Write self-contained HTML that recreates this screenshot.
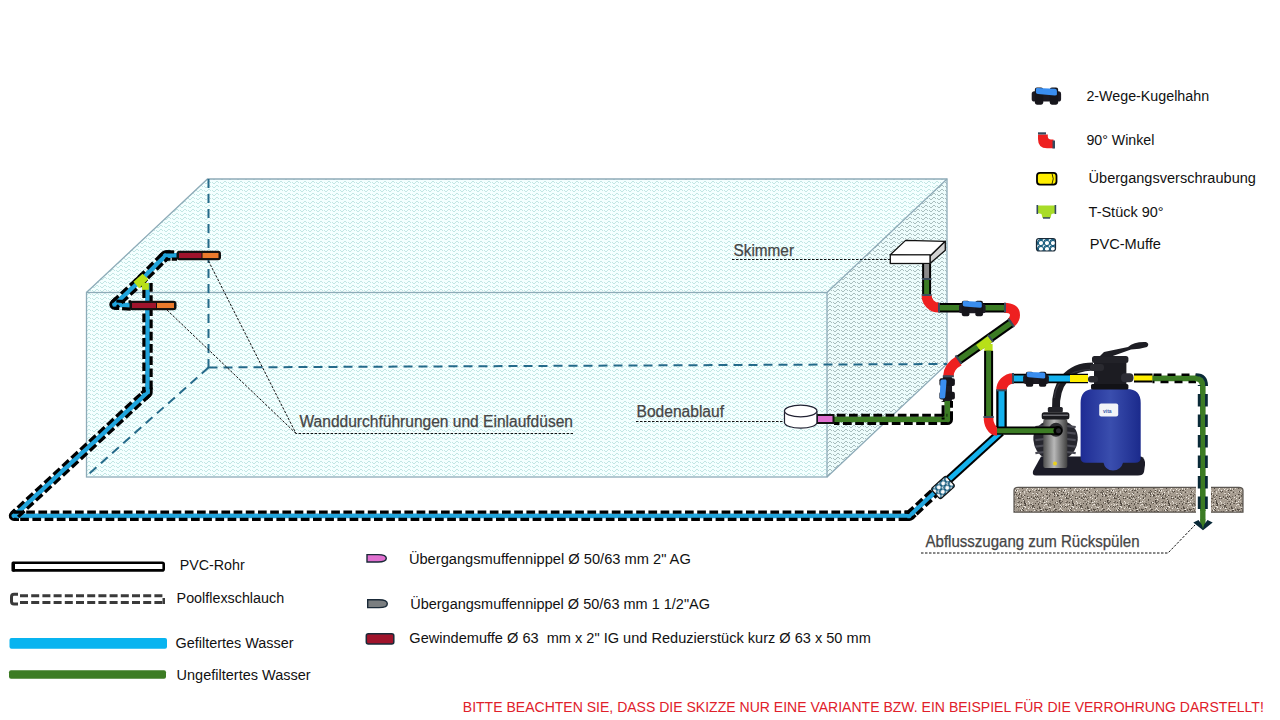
<!DOCTYPE html>
<html><head><meta charset="utf-8">
<style>
html,body{margin:0;padding:0;background:#fff;width:1280px;height:720px;overflow:hidden}
svg{display:block}
text{font-family:"Liberation Sans",sans-serif;white-space:pre}
</style></head>
<body>
<svg width="1280" height="720" viewBox="0 0 1280 720">
<defs>
<pattern id="wf" x="4" width="8" height="4" patternUnits="userSpaceOnUse">
<rect width="8" height="4" fill="#f4ffff"/><path d="M0 2h1v1h-1zM1 3h2v1h-2zM3 2h1v1h-1zM4 1h2v1h-2zM6 2h1v1h-1z" fill="#c2e6e4"/></pattern>
<pattern id="wr" x="1" width="8" height="4" patternUnits="userSpaceOnUse">
<rect width="8" height="4" fill="#edfcfc"/><path d="M0 2h1v1h-1zM1 3h2v1h-2zM3 2h1v1h-1zM4 1h2v1h-2zM6 2h1v1h-1z" fill="#a8bebe"/></pattern>
<pattern id="muf" width="6" height="6" patternUnits="userSpaceOnUse">
<rect width="6" height="6" fill="#fff"/><circle cx="3" cy="3" r="2.6" fill="none" stroke="#1c5f80" stroke-width="1.1"/><rect x="0" y="0" width="1.2" height="1.2" fill="#1c5f80"/></pattern>
<pattern id="granite" width="48" height="26" patternUnits="userSpaceOnUse"><rect width="48" height="26" fill="#a69c90"/><rect x="20" y="4" width="1" height="1" fill="#918779"/><rect x="41" y="1" width="1" height="1" fill="#6a6258"/><rect x="34" y="3" width="1" height="1" fill="#f0ebe4"/><rect x="37" y="1" width="1" height="1" fill="#c8c0b4"/><rect x="2" y="2" width="1" height="1" fill="#918779"/><rect x="26" y="2" width="1" height="1" fill="#c8c0b4"/><rect x="5" y="17" width="1" height="1" fill="#918779"/><rect x="3" y="18" width="1" height="1" fill="#6a6258"/><rect x="14" y="20" width="1" height="1" fill="#4e463e"/><rect x="36" y="18" width="1" height="1" fill="#918779"/><rect x="3" y="7" width="1" height="1" fill="#4e463e"/><rect x="35" y="4" width="1" height="1" fill="#ddd6cc"/><rect x="26" y="4" width="1" height="1" fill="#6a6258"/><rect x="36" y="9" width="1" height="1" fill="#857b70"/><rect x="6" y="18" width="1" height="1" fill="#c8c0b4"/><rect x="23" y="3" width="1" height="1" fill="#6a6258"/><rect x="36" y="1" width="1" height="1" fill="#c8c0b4"/><rect x="31" y="21" width="1" height="1" fill="#918779"/><rect x="20" y="14" width="1" height="1" fill="#5e564c"/><rect x="23" y="9" width="1" height="1" fill="#c8c0b4"/><rect x="11" y="22" width="1" height="1" fill="#c8c0b4"/><rect x="5" y="18" width="1" height="1" fill="#ddd6cc"/><rect x="33" y="15" width="1" height="1" fill="#f0ebe4"/><rect x="46" y="14" width="1" height="1" fill="#ddd6cc"/><rect x="38" y="2" width="1" height="1" fill="#6a6258"/><rect x="32" y="13" width="1" height="1" fill="#857b70"/><rect x="21" y="4" width="1" height="1" fill="#5e564c"/><rect x="26" y="1" width="1" height="1" fill="#6a6258"/><rect x="35" y="18" width="1" height="1" fill="#f0ebe4"/><rect x="21" y="22" width="1" height="1" fill="#f0ebe4"/><rect x="38" y="15" width="1" height="1" fill="#5e564c"/><rect x="4" y="2" width="1" height="1" fill="#ddd6cc"/><rect x="30" y="22" width="1" height="1" fill="#6a6258"/><rect x="3" y="23" width="1" height="1" fill="#ddd6cc"/><rect x="41" y="18" width="1" height="1" fill="#5e564c"/><rect x="18" y="22" width="1" height="1" fill="#918779"/><rect x="42" y="11" width="1" height="1" fill="#4e463e"/><rect x="29" y="11" width="1" height="1" fill="#857b70"/><rect x="39" y="3" width="1" height="1" fill="#5e564c"/><rect x="3" y="6" width="1" height="1" fill="#ddd6cc"/><rect x="8" y="23" width="1" height="1" fill="#c8c0b4"/><rect x="25" y="12" width="1" height="1" fill="#5e564c"/><rect x="5" y="5" width="1" height="1" fill="#5e564c"/><rect x="25" y="17" width="1" height="1" fill="#ddd6cc"/><rect x="8" y="13" width="1" height="1" fill="#ddd6cc"/><rect x="45" y="13" width="1" height="1" fill="#f0ebe4"/><rect x="43" y="12" width="1" height="1" fill="#c8c0b4"/><rect x="9" y="2" width="1" height="1" fill="#857b70"/><rect x="9" y="7" width="1" height="1" fill="#c8c0b4"/><rect x="0" y="15" width="1" height="1" fill="#857b70"/><rect x="16" y="9" width="1" height="1" fill="#4e463e"/><rect x="9" y="13" width="1" height="1" fill="#f0ebe4"/><rect x="39" y="18" width="1" height="1" fill="#f0ebe4"/><rect x="8" y="22" width="1" height="1" fill="#4e463e"/><rect x="29" y="24" width="1" height="1" fill="#918779"/><rect x="25" y="12" width="1" height="1" fill="#918779"/><rect x="6" y="15" width="1" height="1" fill="#918779"/><rect x="3" y="6" width="1" height="1" fill="#6a6258"/><rect x="13" y="14" width="1" height="1" fill="#857b70"/><rect x="7" y="10" width="1" height="1" fill="#4e463e"/><rect x="6" y="0" width="1" height="1" fill="#857b70"/><rect x="34" y="3" width="1" height="1" fill="#f0ebe4"/><rect x="39" y="0" width="1" height="1" fill="#6a6258"/><rect x="13" y="19" width="1" height="1" fill="#918779"/><rect x="9" y="20" width="1" height="1" fill="#ddd6cc"/><rect x="22" y="19" width="1" height="1" fill="#f0ebe4"/><rect x="30" y="3" width="1" height="1" fill="#6a6258"/><rect x="31" y="14" width="1" height="1" fill="#5e564c"/><rect x="30" y="9" width="1" height="1" fill="#6a6258"/><rect x="9" y="3" width="1" height="1" fill="#f0ebe4"/><rect x="47" y="8" width="1" height="1" fill="#5e564c"/><rect x="44" y="5" width="1" height="1" fill="#4e463e"/><rect x="13" y="16" width="1" height="1" fill="#f0ebe4"/><rect x="9" y="22" width="1" height="1" fill="#4e463e"/><rect x="33" y="9" width="1" height="1" fill="#6a6258"/><rect x="44" y="8" width="1" height="1" fill="#f0ebe4"/><rect x="10" y="11" width="1" height="1" fill="#c8c0b4"/><rect x="34" y="17" width="1" height="1" fill="#f0ebe4"/><rect x="40" y="7" width="1" height="1" fill="#c8c0b4"/><rect x="15" y="12" width="1" height="1" fill="#c8c0b4"/><rect x="12" y="16" width="1" height="1" fill="#5e564c"/><rect x="22" y="23" width="1" height="1" fill="#4e463e"/><rect x="1" y="25" width="1" height="1" fill="#ddd6cc"/><rect x="30" y="8" width="1" height="1" fill="#c8c0b4"/><rect x="44" y="19" width="1" height="1" fill="#f0ebe4"/><rect x="28" y="25" width="1" height="1" fill="#f0ebe4"/><rect x="23" y="2" width="1" height="1" fill="#c8c0b4"/><rect x="6" y="7" width="1" height="1" fill="#5e564c"/><rect x="12" y="10" width="1" height="1" fill="#c8c0b4"/><rect x="30" y="19" width="1" height="1" fill="#4e463e"/><rect x="30" y="20" width="1" height="1" fill="#f0ebe4"/><rect x="41" y="2" width="1" height="1" fill="#6a6258"/><rect x="24" y="25" width="1" height="1" fill="#c8c0b4"/><rect x="30" y="5" width="1" height="1" fill="#918779"/><rect x="40" y="10" width="1" height="1" fill="#6a6258"/><rect x="46" y="12" width="1" height="1" fill="#5e564c"/><rect x="25" y="23" width="1" height="1" fill="#6a6258"/><rect x="46" y="5" width="1" height="1" fill="#857b70"/><rect x="8" y="0" width="1" height="1" fill="#857b70"/><rect x="37" y="14" width="1" height="1" fill="#857b70"/><rect x="39" y="19" width="1" height="1" fill="#5e564c"/><rect x="42" y="11" width="1" height="1" fill="#857b70"/><rect x="35" y="17" width="1" height="1" fill="#857b70"/><rect x="1" y="0" width="1" height="1" fill="#6a6258"/><rect x="33" y="23" width="1" height="1" fill="#857b70"/><rect x="27" y="6" width="1" height="1" fill="#c8c0b4"/><rect x="1" y="8" width="1" height="1" fill="#c8c0b4"/><rect x="18" y="16" width="1" height="1" fill="#c8c0b4"/><rect x="37" y="10" width="1" height="1" fill="#ddd6cc"/><rect x="34" y="13" width="1" height="1" fill="#857b70"/><rect x="3" y="23" width="1" height="1" fill="#f0ebe4"/><rect x="29" y="21" width="1" height="1" fill="#918779"/><rect x="32" y="4" width="1" height="1" fill="#857b70"/><rect x="33" y="16" width="1" height="1" fill="#4e463e"/><rect x="28" y="24" width="1" height="1" fill="#857b70"/><rect x="38" y="0" width="1" height="1" fill="#857b70"/><rect x="11" y="4" width="1" height="1" fill="#5e564c"/><rect x="39" y="23" width="1" height="1" fill="#6a6258"/><rect x="35" y="1" width="1" height="1" fill="#f0ebe4"/><rect x="43" y="16" width="1" height="1" fill="#5e564c"/><rect x="6" y="17" width="1" height="1" fill="#4e463e"/><rect x="15" y="6" width="1" height="1" fill="#ddd6cc"/><rect x="2" y="24" width="1" height="1" fill="#6a6258"/><rect x="32" y="14" width="1" height="1" fill="#4e463e"/><rect x="4" y="14" width="1" height="1" fill="#f0ebe4"/><rect x="39" y="16" width="1" height="1" fill="#c8c0b4"/><rect x="44" y="8" width="1" height="1" fill="#5e564c"/><rect x="32" y="17" width="1" height="1" fill="#5e564c"/><rect x="32" y="7" width="1" height="1" fill="#ddd6cc"/><rect x="35" y="6" width="1" height="1" fill="#5e564c"/><rect x="8" y="13" width="1" height="1" fill="#6a6258"/><rect x="25" y="14" width="1" height="1" fill="#f0ebe4"/><rect x="4" y="21" width="1" height="1" fill="#c8c0b4"/><rect x="27" y="2" width="1" height="1" fill="#c8c0b4"/><rect x="42" y="9" width="1" height="1" fill="#6a6258"/><rect x="9" y="22" width="1" height="1" fill="#f0ebe4"/><rect x="9" y="8" width="1" height="1" fill="#857b70"/><rect x="29" y="7" width="1" height="1" fill="#6a6258"/><rect x="25" y="15" width="1" height="1" fill="#857b70"/><rect x="42" y="7" width="1" height="1" fill="#857b70"/><rect x="45" y="13" width="1" height="1" fill="#918779"/><rect x="21" y="13" width="1" height="1" fill="#c8c0b4"/><rect x="22" y="10" width="1" height="1" fill="#6a6258"/><rect x="46" y="11" width="1" height="1" fill="#4e463e"/><rect x="21" y="17" width="1" height="1" fill="#5e564c"/><rect x="28" y="22" width="1" height="1" fill="#4e463e"/><rect x="24" y="10" width="1" height="1" fill="#ddd6cc"/><rect x="32" y="2" width="1" height="1" fill="#6a6258"/><rect x="14" y="3" width="1" height="1" fill="#6a6258"/><rect x="16" y="8" width="1" height="1" fill="#4e463e"/><rect x="11" y="8" width="1" height="1" fill="#857b70"/><rect x="27" y="21" width="1" height="1" fill="#ddd6cc"/><rect x="25" y="4" width="1" height="1" fill="#5e564c"/><rect x="44" y="10" width="1" height="1" fill="#6a6258"/><rect x="17" y="1" width="1" height="1" fill="#857b70"/><rect x="27" y="2" width="1" height="1" fill="#ddd6cc"/><rect x="1" y="20" width="1" height="1" fill="#6a6258"/><rect x="16" y="2" width="1" height="1" fill="#c8c0b4"/><rect x="4" y="8" width="1" height="1" fill="#6a6258"/><rect x="29" y="0" width="1" height="1" fill="#f0ebe4"/><rect x="35" y="13" width="1" height="1" fill="#ddd6cc"/><rect x="39" y="4" width="1" height="1" fill="#4e463e"/><rect x="33" y="22" width="1" height="1" fill="#c8c0b4"/><rect x="7" y="5" width="1" height="1" fill="#ddd6cc"/><rect x="3" y="5" width="1" height="1" fill="#c8c0b4"/><rect x="19" y="20" width="1" height="1" fill="#ddd6cc"/><rect x="33" y="24" width="1" height="1" fill="#c8c0b4"/><rect x="18" y="14" width="1" height="1" fill="#857b70"/><rect x="17" y="11" width="1" height="1" fill="#4e463e"/><rect x="16" y="1" width="1" height="1" fill="#4e463e"/><rect x="1" y="23" width="1" height="1" fill="#c8c0b4"/><rect x="32" y="15" width="1" height="1" fill="#c8c0b4"/><rect x="28" y="3" width="1" height="1" fill="#918779"/><rect x="42" y="15" width="1" height="1" fill="#918779"/><rect x="32" y="9" width="1" height="1" fill="#c8c0b4"/><rect x="14" y="10" width="1" height="1" fill="#c8c0b4"/><rect x="45" y="23" width="1" height="1" fill="#857b70"/><rect x="25" y="11" width="1" height="1" fill="#4e463e"/><rect x="8" y="0" width="1" height="1" fill="#6a6258"/><rect x="40" y="23" width="1" height="1" fill="#ddd6cc"/><rect x="27" y="5" width="1" height="1" fill="#4e463e"/><rect x="5" y="21" width="1" height="1" fill="#918779"/><rect x="32" y="21" width="1" height="1" fill="#ddd6cc"/><rect x="38" y="7" width="1" height="1" fill="#ddd6cc"/><rect x="2" y="14" width="1" height="1" fill="#857b70"/><rect x="10" y="8" width="1" height="1" fill="#5e564c"/><rect x="0" y="8" width="1" height="1" fill="#f0ebe4"/><rect x="21" y="17" width="1" height="1" fill="#f0ebe4"/><rect x="15" y="1" width="1" height="1" fill="#ddd6cc"/><rect x="13" y="11" width="1" height="1" fill="#857b70"/><rect x="0" y="10" width="1" height="1" fill="#918779"/><rect x="5" y="15" width="1" height="1" fill="#ddd6cc"/><rect x="32" y="20" width="1" height="1" fill="#c8c0b4"/><rect x="15" y="16" width="1" height="1" fill="#4e463e"/><rect x="5" y="8" width="1" height="1" fill="#6a6258"/><rect x="9" y="12" width="1" height="1" fill="#4e463e"/><rect x="25" y="0" width="1" height="1" fill="#ddd6cc"/><rect x="19" y="20" width="1" height="1" fill="#c8c0b4"/><rect x="5" y="18" width="1" height="1" fill="#857b70"/><rect x="42" y="22" width="1" height="1" fill="#918779"/><rect x="20" y="23" width="1" height="1" fill="#5e564c"/><rect x="9" y="9" width="1" height="1" fill="#857b70"/><rect x="2" y="22" width="1" height="1" fill="#918779"/><rect x="46" y="22" width="1" height="1" fill="#857b70"/><rect x="33" y="24" width="1" height="1" fill="#4e463e"/><rect x="43" y="18" width="1" height="1" fill="#c8c0b4"/><rect x="5" y="0" width="1" height="1" fill="#4e463e"/><rect x="8" y="20" width="1" height="1" fill="#f0ebe4"/><rect x="6" y="12" width="1" height="1" fill="#5e564c"/><rect x="35" y="1" width="1" height="1" fill="#4e463e"/><rect x="40" y="17" width="1" height="1" fill="#c8c0b4"/><rect x="31" y="8" width="1" height="1" fill="#4e463e"/><rect x="29" y="25" width="1" height="1" fill="#6a6258"/><rect x="47" y="16" width="1" height="1" fill="#6a6258"/><rect x="42" y="16" width="1" height="1" fill="#6a6258"/><rect x="47" y="23" width="1" height="1" fill="#5e564c"/><rect x="16" y="25" width="1" height="1" fill="#6a6258"/><rect x="16" y="7" width="1" height="1" fill="#c8c0b4"/><rect x="14" y="23" width="1" height="1" fill="#5e564c"/><rect x="31" y="12" width="1" height="1" fill="#6a6258"/><rect x="30" y="21" width="1" height="1" fill="#ddd6cc"/><rect x="2" y="19" width="1" height="1" fill="#c8c0b4"/><rect x="4" y="19" width="1" height="1" fill="#857b70"/><rect x="21" y="8" width="1" height="1" fill="#ddd6cc"/><rect x="39" y="18" width="1" height="1" fill="#857b70"/><rect x="0" y="15" width="1" height="1" fill="#4e463e"/><rect x="31" y="8" width="1" height="1" fill="#6a6258"/><rect x="44" y="6" width="1" height="1" fill="#5e564c"/><rect x="18" y="22" width="1" height="1" fill="#ddd6cc"/><rect x="29" y="14" width="1" height="1" fill="#5e564c"/><rect x="7" y="17" width="1" height="1" fill="#c8c0b4"/><rect x="19" y="2" width="1" height="1" fill="#5e564c"/><rect x="1" y="9" width="1" height="1" fill="#5e564c"/><rect x="4" y="16" width="1" height="1" fill="#5e564c"/><rect x="17" y="12" width="1" height="1" fill="#c8c0b4"/><rect x="13" y="2" width="1" height="1" fill="#6a6258"/><rect x="9" y="23" width="1" height="1" fill="#ddd6cc"/><rect x="23" y="4" width="1" height="1" fill="#ddd6cc"/><rect x="7" y="22" width="1" height="1" fill="#f0ebe4"/><rect x="14" y="15" width="1" height="1" fill="#5e564c"/><rect x="25" y="0" width="1" height="1" fill="#857b70"/><rect x="0" y="15" width="1" height="1" fill="#5e564c"/><rect x="25" y="9" width="1" height="1" fill="#857b70"/><rect x="26" y="11" width="1" height="1" fill="#918779"/><rect x="20" y="3" width="1" height="1" fill="#f0ebe4"/><rect x="0" y="10" width="1" height="1" fill="#f0ebe4"/><rect x="25" y="3" width="1" height="1" fill="#c8c0b4"/><rect x="45" y="0" width="1" height="1" fill="#ddd6cc"/><rect x="16" y="11" width="1" height="1" fill="#6a6258"/><rect x="25" y="12" width="1" height="1" fill="#6a6258"/><rect x="23" y="13" width="1" height="1" fill="#ddd6cc"/><rect x="3" y="8" width="1" height="1" fill="#6a6258"/><rect x="3" y="21" width="1" height="1" fill="#ddd6cc"/><rect x="40" y="4" width="1" height="1" fill="#c8c0b4"/><rect x="17" y="13" width="1" height="1" fill="#f0ebe4"/><rect x="12" y="24" width="1" height="1" fill="#f0ebe4"/><rect x="27" y="0" width="1" height="1" fill="#918779"/><rect x="35" y="17" width="1" height="1" fill="#c8c0b4"/><rect x="46" y="2" width="1" height="1" fill="#4e463e"/><rect x="46" y="13" width="1" height="1" fill="#5e564c"/><rect x="39" y="24" width="1" height="1" fill="#857b70"/><rect x="41" y="9" width="1" height="1" fill="#5e564c"/><rect x="3" y="17" width="1" height="1" fill="#857b70"/><rect x="10" y="15" width="1" height="1" fill="#918779"/><rect x="21" y="9" width="1" height="1" fill="#ddd6cc"/><rect x="16" y="23" width="1" height="1" fill="#ddd6cc"/><rect x="25" y="20" width="1" height="1" fill="#c8c0b4"/><rect x="19" y="15" width="1" height="1" fill="#918779"/><rect x="7" y="5" width="1" height="1" fill="#857b70"/><rect x="4" y="6" width="1" height="1" fill="#5e564c"/><rect x="35" y="7" width="1" height="1" fill="#5e564c"/><rect x="21" y="24" width="1" height="1" fill="#5e564c"/><rect x="27" y="4" width="1" height="1" fill="#c8c0b4"/><rect x="15" y="2" width="1" height="1" fill="#857b70"/><rect x="21" y="17" width="1" height="1" fill="#6a6258"/><rect x="20" y="7" width="1" height="1" fill="#f0ebe4"/><rect x="16" y="25" width="1" height="1" fill="#c8c0b4"/><rect x="1" y="23" width="1" height="1" fill="#918779"/><rect x="24" y="13" width="1" height="1" fill="#c8c0b4"/><rect x="24" y="8" width="1" height="1" fill="#f0ebe4"/><rect x="3" y="15" width="1" height="1" fill="#ddd6cc"/><rect x="36" y="11" width="1" height="1" fill="#857b70"/><rect x="43" y="16" width="1" height="1" fill="#c8c0b4"/><rect x="5" y="8" width="1" height="1" fill="#c8c0b4"/><rect x="24" y="12" width="1" height="1" fill="#5e564c"/><rect x="27" y="9" width="1" height="1" fill="#4e463e"/><rect x="8" y="1" width="1" height="1" fill="#918779"/><rect x="45" y="24" width="1" height="1" fill="#5e564c"/><rect x="37" y="15" width="1" height="1" fill="#4e463e"/><rect x="4" y="12" width="1" height="1" fill="#5e564c"/><rect x="28" y="7" width="1" height="1" fill="#6a6258"/><rect x="14" y="4" width="1" height="1" fill="#857b70"/><rect x="33" y="21" width="1" height="1" fill="#6a6258"/><rect x="46" y="22" width="1" height="1" fill="#5e564c"/><rect x="5" y="17" width="1" height="1" fill="#4e463e"/><rect x="0" y="25" width="1" height="1" fill="#857b70"/><rect x="14" y="18" width="1" height="1" fill="#4e463e"/><rect x="41" y="22" width="1" height="1" fill="#ddd6cc"/><rect x="8" y="20" width="1" height="1" fill="#ddd6cc"/><rect x="33" y="20" width="1" height="1" fill="#918779"/><rect x="44" y="24" width="1" height="1" fill="#6a6258"/><rect x="6" y="2" width="1" height="1" fill="#ddd6cc"/><rect x="33" y="18" width="1" height="1" fill="#c8c0b4"/><rect x="24" y="8" width="1" height="1" fill="#c8c0b4"/><rect x="38" y="0" width="1" height="1" fill="#4e463e"/><rect x="34" y="9" width="1" height="1" fill="#5e564c"/><rect x="17" y="10" width="1" height="1" fill="#c8c0b4"/><rect x="30" y="16" width="1" height="1" fill="#c8c0b4"/><rect x="35" y="7" width="1" height="1" fill="#4e463e"/><rect x="26" y="22" width="1" height="1" fill="#ddd6cc"/><rect x="3" y="0" width="1" height="1" fill="#c8c0b4"/><rect x="31" y="21" width="1" height="1" fill="#918779"/><rect x="5" y="8" width="1" height="1" fill="#c8c0b4"/><rect x="42" y="13" width="1" height="1" fill="#f0ebe4"/><rect x="14" y="15" width="1" height="1" fill="#4e463e"/><rect x="44" y="10" width="1" height="1" fill="#918779"/><rect x="23" y="21" width="1" height="1" fill="#918779"/><rect x="12" y="0" width="1" height="1" fill="#ddd6cc"/><rect x="47" y="16" width="1" height="1" fill="#6a6258"/><rect x="13" y="15" width="1" height="1" fill="#c8c0b4"/><rect x="19" y="24" width="1" height="1" fill="#c8c0b4"/><rect x="14" y="14" width="1" height="1" fill="#c8c0b4"/><rect x="16" y="24" width="1" height="1" fill="#ddd6cc"/><rect x="6" y="19" width="1" height="1" fill="#5e564c"/><rect x="39" y="5" width="1" height="1" fill="#c8c0b4"/><rect x="31" y="13" width="1" height="1" fill="#4e463e"/><rect x="38" y="4" width="1" height="1" fill="#918779"/><rect x="3" y="6" width="1" height="1" fill="#4e463e"/><rect x="38" y="4" width="1" height="1" fill="#918779"/><rect x="3" y="22" width="1" height="1" fill="#4e463e"/><rect x="11" y="12" width="1" height="1" fill="#5e564c"/><rect x="45" y="10" width="1" height="1" fill="#6a6258"/><rect x="5" y="5" width="1" height="1" fill="#f0ebe4"/><rect x="12" y="5" width="1" height="1" fill="#5e564c"/><rect x="2" y="9" width="1" height="1" fill="#918779"/><rect x="23" y="10" width="1" height="1" fill="#5e564c"/><rect x="10" y="3" width="1" height="1" fill="#4e463e"/><rect x="5" y="8" width="1" height="1" fill="#6a6258"/><rect x="22" y="13" width="1" height="1" fill="#6a6258"/><rect x="35" y="24" width="1" height="1" fill="#c8c0b4"/><rect x="24" y="11" width="1" height="1" fill="#ddd6cc"/><rect x="27" y="2" width="1" height="1" fill="#4e463e"/><rect x="45" y="15" width="1" height="1" fill="#c8c0b4"/><rect x="23" y="17" width="1" height="1" fill="#5e564c"/><rect x="12" y="10" width="1" height="1" fill="#f0ebe4"/><rect x="47" y="15" width="1" height="1" fill="#4e463e"/><rect x="40" y="13" width="1" height="1" fill="#c8c0b4"/><rect x="40" y="24" width="1" height="1" fill="#918779"/><rect x="2" y="12" width="1" height="1" fill="#4e463e"/><rect x="29" y="2" width="1" height="1" fill="#4e463e"/><rect x="16" y="6" width="1" height="1" fill="#6a6258"/><rect x="38" y="10" width="1" height="1" fill="#f0ebe4"/><rect x="17" y="10" width="1" height="1" fill="#4e463e"/><rect x="16" y="23" width="1" height="1" fill="#f0ebe4"/><rect x="17" y="9" width="1" height="1" fill="#4e463e"/><rect x="46" y="24" width="1" height="1" fill="#6a6258"/><rect x="1" y="7" width="1" height="1" fill="#6a6258"/><rect x="30" y="22" width="1" height="1" fill="#5e564c"/><rect x="24" y="25" width="1" height="1" fill="#ddd6cc"/><rect x="27" y="15" width="1" height="1" fill="#857b70"/><rect x="31" y="5" width="1" height="1" fill="#4e463e"/><rect x="47" y="9" width="1" height="1" fill="#857b70"/><rect x="38" y="7" width="1" height="1" fill="#f0ebe4"/><rect x="20" y="14" width="1" height="1" fill="#f0ebe4"/><rect x="38" y="2" width="1" height="1" fill="#c8c0b4"/><rect x="25" y="24" width="1" height="1" fill="#857b70"/><rect x="15" y="13" width="1" height="1" fill="#6a6258"/><rect x="41" y="1" width="1" height="1" fill="#5e564c"/><rect x="35" y="17" width="1" height="1" fill="#f0ebe4"/><rect x="10" y="13" width="1" height="1" fill="#6a6258"/><rect x="4" y="8" width="1" height="1" fill="#6a6258"/><rect x="13" y="3" width="1" height="1" fill="#918779"/><rect x="31" y="22" width="1" height="1" fill="#5e564c"/><rect x="11" y="7" width="1" height="1" fill="#857b70"/><rect x="26" y="14" width="1" height="1" fill="#c8c0b4"/><rect x="47" y="17" width="1" height="1" fill="#6a6258"/><rect x="18" y="9" width="1" height="1" fill="#ddd6cc"/><rect x="36" y="8" width="1" height="1" fill="#f0ebe4"/><rect x="16" y="23" width="1" height="1" fill="#ddd6cc"/><rect x="12" y="14" width="1" height="1" fill="#c8c0b4"/><rect x="11" y="7" width="1" height="1" fill="#c8c0b4"/><rect x="9" y="9" width="1" height="1" fill="#c8c0b4"/><rect x="20" y="2" width="1" height="1" fill="#918779"/><rect x="16" y="7" width="1" height="1" fill="#c8c0b4"/><rect x="41" y="25" width="1" height="1" fill="#6a6258"/><rect x="41" y="14" width="1" height="1" fill="#4e463e"/><rect x="6" y="0" width="1" height="1" fill="#5e564c"/><rect x="14" y="14" width="1" height="1" fill="#f0ebe4"/><rect x="2" y="9" width="1" height="1" fill="#c8c0b4"/><rect x="7" y="1" width="1" height="1" fill="#c8c0b4"/><rect x="38" y="18" width="1" height="1" fill="#c8c0b4"/><rect x="4" y="11" width="1" height="1" fill="#857b70"/><rect x="28" y="19" width="1" height="1" fill="#ddd6cc"/><rect x="42" y="0" width="1" height="1" fill="#6a6258"/><rect x="40" y="19" width="1" height="1" fill="#f0ebe4"/><rect x="13" y="1" width="1" height="1" fill="#f0ebe4"/><rect x="21" y="4" width="1" height="1" fill="#4e463e"/><rect x="13" y="8" width="1" height="1" fill="#4e463e"/><rect x="38" y="23" width="1" height="1" fill="#c8c0b4"/><rect x="0" y="10" width="1" height="1" fill="#918779"/><rect x="43" y="11" width="1" height="1" fill="#857b70"/><rect x="39" y="9" width="1" height="1" fill="#6a6258"/><rect x="13" y="1" width="1" height="1" fill="#5e564c"/><rect x="35" y="15" width="1" height="1" fill="#6a6258"/><rect x="26" y="3" width="1" height="1" fill="#918779"/><rect x="42" y="17" width="1" height="1" fill="#857b70"/><rect x="40" y="17" width="1" height="1" fill="#6a6258"/><rect x="41" y="5" width="1" height="1" fill="#918779"/><rect x="44" y="8" width="1" height="1" fill="#918779"/><rect x="18" y="21" width="1" height="1" fill="#ddd6cc"/><rect x="26" y="1" width="1" height="1" fill="#ddd6cc"/><rect x="47" y="18" width="1" height="1" fill="#f0ebe4"/><rect x="26" y="13" width="1" height="1" fill="#4e463e"/><rect x="23" y="20" width="1" height="1" fill="#c8c0b4"/><rect x="25" y="23" width="1" height="1" fill="#918779"/><rect x="13" y="0" width="1" height="1" fill="#918779"/><rect x="10" y="13" width="1" height="1" fill="#6a6258"/><rect x="5" y="12" width="1" height="1" fill="#f0ebe4"/><rect x="29" y="24" width="1" height="1" fill="#857b70"/><rect x="8" y="0" width="1" height="1" fill="#4e463e"/><rect x="35" y="4" width="1" height="1" fill="#918779"/><rect x="5" y="18" width="1" height="1" fill="#f0ebe4"/><rect x="47" y="16" width="1" height="1" fill="#857b70"/><rect x="9" y="11" width="1" height="1" fill="#ddd6cc"/><rect x="10" y="16" width="1" height="1" fill="#857b70"/><rect x="4" y="3" width="1" height="1" fill="#918779"/><rect x="31" y="24" width="1" height="1" fill="#c8c0b4"/><rect x="19" y="4" width="1" height="1" fill="#4e463e"/><rect x="30" y="10" width="1" height="1" fill="#4e463e"/><rect x="38" y="20" width="1" height="1" fill="#918779"/><rect x="5" y="22" width="1" height="1" fill="#857b70"/><rect x="40" y="25" width="1" height="1" fill="#c8c0b4"/><rect x="39" y="12" width="1" height="1" fill="#c8c0b4"/><rect x="30" y="5" width="1" height="1" fill="#c8c0b4"/><rect x="2" y="12" width="1" height="1" fill="#857b70"/><rect x="24" y="11" width="1" height="1" fill="#6a6258"/><rect x="9" y="7" width="1" height="1" fill="#c8c0b4"/><rect x="2" y="17" width="1" height="1" fill="#4e463e"/><rect x="42" y="10" width="1" height="1" fill="#6a6258"/><rect x="24" y="19" width="1" height="1" fill="#5e564c"/><rect x="35" y="20" width="1" height="1" fill="#ddd6cc"/><rect x="41" y="13" width="1" height="1" fill="#ddd6cc"/><rect x="37" y="7" width="1" height="1" fill="#918779"/><rect x="24" y="21" width="1" height="1" fill="#f0ebe4"/><rect x="28" y="16" width="1" height="1" fill="#5e564c"/><rect x="11" y="0" width="1" height="1" fill="#4e463e"/><rect x="39" y="15" width="1" height="1" fill="#5e564c"/><rect x="15" y="14" width="1" height="1" fill="#5e564c"/><rect x="11" y="25" width="1" height="1" fill="#5e564c"/><rect x="25" y="3" width="1" height="1" fill="#6a6258"/><rect x="8" y="11" width="1" height="1" fill="#918779"/><rect x="23" y="2" width="1" height="1" fill="#5e564c"/><rect x="32" y="16" width="1" height="1" fill="#4e463e"/><rect x="2" y="20" width="1" height="1" fill="#857b70"/><rect x="5" y="23" width="1" height="1" fill="#f0ebe4"/><rect x="46" y="16" width="1" height="1" fill="#6a6258"/><rect x="3" y="24" width="1" height="1" fill="#918779"/><rect x="41" y="25" width="1" height="1" fill="#857b70"/><rect x="1" y="2" width="1" height="1" fill="#6a6258"/><rect x="12" y="4" width="1" height="1" fill="#5e564c"/><rect x="18" y="25" width="1" height="1" fill="#857b70"/><rect x="43" y="25" width="1" height="1" fill="#c8c0b4"/><rect x="4" y="11" width="1" height="1" fill="#ddd6cc"/><rect x="10" y="10" width="1" height="1" fill="#ddd6cc"/><rect x="29" y="4" width="1" height="1" fill="#ddd6cc"/><rect x="32" y="15" width="1" height="1" fill="#c8c0b4"/><rect x="37" y="8" width="1" height="1" fill="#c8c0b4"/><rect x="20" y="11" width="1" height="1" fill="#4e463e"/><rect x="12" y="5" width="1" height="1" fill="#918779"/><rect x="10" y="20" width="1" height="1" fill="#ddd6cc"/><rect x="43" y="10" width="1" height="1" fill="#918779"/><rect x="10" y="25" width="1" height="1" fill="#ddd6cc"/><rect x="7" y="24" width="1" height="1" fill="#4e463e"/><rect x="40" y="11" width="1" height="1" fill="#5e564c"/><rect x="35" y="16" width="1" height="1" fill="#6a6258"/><rect x="16" y="17" width="1" height="1" fill="#918779"/><rect x="47" y="25" width="1" height="1" fill="#f0ebe4"/><rect x="16" y="12" width="1" height="1" fill="#f0ebe4"/><rect x="36" y="4" width="1" height="1" fill="#f0ebe4"/><rect x="21" y="24" width="1" height="1" fill="#6a6258"/><rect x="28" y="7" width="1" height="1" fill="#857b70"/><rect x="39" y="23" width="1" height="1" fill="#4e463e"/><rect x="18" y="16" width="1" height="1" fill="#ddd6cc"/><rect x="19" y="20" width="1" height="1" fill="#f0ebe4"/><rect x="46" y="0" width="1" height="1" fill="#4e463e"/><rect x="14" y="4" width="1" height="1" fill="#ddd6cc"/><rect x="39" y="20" width="1" height="1" fill="#918779"/><rect x="26" y="16" width="1" height="1" fill="#f0ebe4"/><rect x="3" y="4" width="1" height="1" fill="#5e564c"/><rect x="14" y="19" width="1" height="1" fill="#4e463e"/><rect x="1" y="1" width="1" height="1" fill="#4e463e"/><rect x="36" y="11" width="1" height="1" fill="#ddd6cc"/><rect x="6" y="16" width="1" height="1" fill="#f0ebe4"/><rect x="34" y="7" width="1" height="1" fill="#918779"/><rect x="37" y="9" width="1" height="1" fill="#857b70"/><rect x="13" y="11" width="1" height="1" fill="#5e564c"/><rect x="10" y="4" width="1" height="1" fill="#4e463e"/><rect x="15" y="22" width="1" height="1" fill="#857b70"/><rect x="28" y="3" width="1" height="1" fill="#6a6258"/><rect x="40" y="4" width="1" height="1" fill="#ddd6cc"/><rect x="25" y="25" width="1" height="1" fill="#ddd6cc"/><rect x="0" y="1" width="1" height="1" fill="#f0ebe4"/><rect x="38" y="20" width="1" height="1" fill="#5e564c"/><rect x="38" y="16" width="1" height="1" fill="#5e564c"/><rect x="15" y="5" width="1" height="1" fill="#4e463e"/><rect x="2" y="1" width="1" height="1" fill="#4e463e"/><rect x="25" y="5" width="1" height="1" fill="#c8c0b4"/><rect x="10" y="1" width="1" height="1" fill="#6a6258"/><rect x="0" y="19" width="1" height="1" fill="#c8c0b4"/><rect x="9" y="13" width="1" height="1" fill="#c8c0b4"/><rect x="33" y="19" width="1" height="1" fill="#918779"/><rect x="39" y="5" width="1" height="1" fill="#ddd6cc"/><rect x="4" y="9" width="1" height="1" fill="#4e463e"/><rect x="46" y="25" width="1" height="1" fill="#5e564c"/><rect x="45" y="17" width="1" height="1" fill="#4e463e"/><rect x="24" y="13" width="1" height="1" fill="#5e564c"/><rect x="5" y="23" width="1" height="1" fill="#5e564c"/><rect x="11" y="7" width="1" height="1" fill="#6a6258"/><rect x="16" y="7" width="1" height="1" fill="#4e463e"/><rect x="7" y="10" width="1" height="1" fill="#ddd6cc"/></pattern>
<linearGradient id="tank" x1="0" x2="1" y1="0" y2="0">
<stop offset="0" stop-color="#1e2c94"/><stop offset="0.5" stop-color="#3a4eae"/><stop offset="1" stop-color="#1b2a8c"/></linearGradient>
<linearGradient id="pumpg" x1="0" x2="1" y1="0" y2="0">
<stop offset="0" stop-color="#505050"/><stop offset="0.45" stop-color="#b8b8b8"/><stop offset="1" stop-color="#404040"/></linearGradient>
</defs>
<polygon points="86,292 207,179 947,179 827,292" fill="url(#wf)"/>
<rect x="86" y="292" width="741" height="185" fill="url(#wf)"/>
<polygon points="827,292 947,179 947,364 827,477" fill="url(#wr)"/>
<g fill="none" stroke="#8eabb8" stroke-width="1.3">
<rect x="86.5" y="292.5" width="740.5" height="184.5"/>
<polyline points="86.5,292.5 207.5,179 947,179 947,364 827,477"/>
<line x1="947" y1="179" x2="827" y2="292.5"/></g>
<g fill="none" stroke="#246a8a" stroke-width="2" stroke-dasharray="9,6">
<line x1="208.5" y1="179" x2="208.5" y2="368"/>
<line x1="208.5" y1="367.5" x2="947" y2="364"/>
<line x1="208.5" y1="367.5" x2="86.5" y2="476"/></g>
<g fill="none" stroke="#111" stroke-width="1" stroke-dasharray="2.5,1.5">
<polyline points="208.5,261 296,433.5 573,433.5"/>
<line x1="167" y1="310" x2="296" y2="433.5"/>
<line x1="732" y1="259.5" x2="890" y2="259.5"/>
<line x1="636" y1="421.5" x2="784" y2="421.5"/>
<polyline points="921,553 1168,553 1195,525"/>
</g>
<text x="299.5" y="427.3" font-size="15.8" fill="#454545" textLength="273.5" lengthAdjust="spacingAndGlyphs" stroke="#454545" stroke-width="0.25">Wanddurchführungen und Einlaufdüsen</text>
<text x="733.5" y="255.7" font-size="15.8" fill="#454545" textLength="60.5" lengthAdjust="spacingAndGlyphs" stroke="#454545" stroke-width="0.25">Skimmer</text>
<text x="636.5" y="416.9" font-size="15.8" fill="#454545" textLength="87.5" lengthAdjust="spacingAndGlyphs" stroke="#454545" stroke-width="0.25">Bodenablauf</text>
<text x="925.5" y="546.5" font-size="15.8" fill="#454545" textLength="214" lengthAdjust="spacingAndGlyphs" stroke="#454545" stroke-width="0.25">Abflusszugang zum Rückspülen</text>
<path d="M147.50,387.50 L147.50,392.50 L143.83,395.89" fill="none" stroke="#000" stroke-width="10.4" stroke-linejoin="round"/>
<path d="M17.67,512.41 L14.00,515.80 L19.00,515.80" fill="none" stroke="#000" stroke-width="10.4" stroke-linejoin="round"/>
<path d="M904.50,515.80 L909.50,515.80 L913.16,512.39" fill="none" stroke="#000" stroke-width="10.4" stroke-linejoin="round"/>
<path d="M147.50,283.00 L147.50,392.50 L14.00,515.80 L909.50,515.80 L934.00,493.00" fill="none" stroke="#20a4dc" stroke-width="4.8" stroke-linejoin="round"/>
<path d="M151.10,283.00 L151.10,392.50" fill="none" stroke="#000" stroke-width="3.2" stroke-dasharray="8.7 3.5" stroke-dashoffset="0"/>
<path d="M143.90,283.00 L143.90,392.50" fill="none" stroke="#000" stroke-width="3.2" stroke-dasharray="8.7 3.5" stroke-dashoffset="6"/>
<path d="M149.94,395.14 L16.44,518.44" fill="none" stroke="#000" stroke-width="3.2" stroke-dasharray="8.7 3.5" stroke-dashoffset="0"/>
<path d="M145.06,389.86 L11.56,513.16" fill="none" stroke="#000" stroke-width="3.2" stroke-dasharray="8.7 3.5" stroke-dashoffset="6"/>
<path d="M14.00,512.20 L909.50,512.20" fill="none" stroke="#000" stroke-width="3.2" stroke-dasharray="8.7 3.5" stroke-dashoffset="0"/>
<path d="M14.00,519.40 L909.50,519.40" fill="none" stroke="#000" stroke-width="3.2" stroke-dasharray="8.7 3.5" stroke-dashoffset="6"/>
<path d="M907.05,513.16 L931.55,490.36" fill="none" stroke="#000" stroke-width="3.2" stroke-dasharray="8.7 3.5" stroke-dashoffset="0"/>
<path d="M911.95,518.44 L936.45,495.64" fill="none" stroke="#000" stroke-width="3.2" stroke-dasharray="8.7 3.5" stroke-dashoffset="6"/>
<path d="M119.49,304.80 L114.50,304.50 L118.17,301.11" fill="none" stroke="#000" stroke-width="10.4" stroke-linejoin="round"/>
<path d="M137.33,283.39 L141.00,280.00 L144.54,276.46" fill="none" stroke="#000" stroke-width="10.4" stroke-linejoin="round"/>
<path d="M161.96,259.04 L165.50,255.50 L170.50,255.50" fill="none" stroke="#000" stroke-width="10.4" stroke-linejoin="round"/>
<path d="M131.00,305.50 L114.50,304.50 L141.00,280.00 L165.50,255.50 L177.00,255.50" fill="none" stroke="#20a4dc" stroke-width="4.8" stroke-linejoin="round"/>
<path d="M130.78,309.09 L114.28,308.09" fill="none" stroke="#000" stroke-width="3.2" stroke-dasharray="8.7 3.5" stroke-dashoffset="0"/>
<path d="M131.22,301.91 L114.72,300.91" fill="none" stroke="#000" stroke-width="3.2" stroke-dasharray="8.7 3.5" stroke-dashoffset="6"/>
<path d="M112.06,301.86 L138.56,277.36" fill="none" stroke="#000" stroke-width="3.2" stroke-dasharray="8.7 3.5" stroke-dashoffset="0"/>
<path d="M116.94,307.14 L143.44,282.64" fill="none" stroke="#000" stroke-width="3.2" stroke-dasharray="8.7 3.5" stroke-dashoffset="6"/>
<path d="M138.45,277.45 L162.95,252.95" fill="none" stroke="#000" stroke-width="3.2" stroke-dasharray="8.7 3.5" stroke-dashoffset="0"/>
<path d="M143.55,282.55 L168.05,258.05" fill="none" stroke="#000" stroke-width="3.2" stroke-dasharray="8.7 3.5" stroke-dashoffset="6"/>
<path d="M165.50,251.90 L177.00,251.90" fill="none" stroke="#000" stroke-width="3.2" stroke-dasharray="8.7 3.5" stroke-dashoffset="0"/>
<path d="M165.50,259.10 L177.00,259.10" fill="none" stroke="#000" stroke-width="3.2" stroke-dasharray="8.7 3.5" stroke-dashoffset="6"/>
<rect x="176.5" y="250.75" width="44.5" height="9.5" rx="3" fill="#111"/>
<rect x="179.0" y="252.95" width="22.5" height="5.1" fill="#a0142c"/>
<rect x="202.5" y="252.95" width="16" height="5.1" fill="#ec7a2c"/>
<rect x="129.5" y="300.75" width="47.0" height="9.5" rx="3" fill="#111"/>
<rect x="132.0" y="302.95" width="24.0" height="5.1" fill="#a0142c"/>
<rect x="157.0" y="302.95" width="17.0" height="5.1" fill="#ec7a2c"/>
<polygon points="133.5,281.8 142.5,273.7 148.3,279.3 139.2,288.2" fill="#b8e018"/>
<rect x="142" y="283" width="6.8" height="6.8" fill="#b8e018"/>
<path d="M934,493 L1001,432" fill="none" stroke="#000" stroke-width="8.5" stroke-linecap="butt" stroke-linejoin="miter"/>
<path d="M934,493 L1001,432" fill="none" stroke="#14b2ee" stroke-width="4.6" stroke-linecap="butt" stroke-linejoin="miter"/>
<g transform="translate(943,487.5) rotate(-42)"><rect x="-10" y="-7" width="20" height="14" rx="2" fill="url(#muf)" stroke="#111" stroke-width="1.2"/></g>
<polygon points="890.3,254.8 905.6,240.4 945.3,241.3 930,256.3" fill="#fff" stroke="#111" stroke-width="1.3" stroke-linejoin="round"/>
<polygon points="930,256.3 945.3,241.3 945.3,250.3 930,263.5" fill="#d2d2d2" stroke="#111" stroke-width="1.3" stroke-linejoin="round"/>
<rect x="890.3" y="254.8" width="39.7" height="8.7" fill="#fff" stroke="#111" stroke-width="1.3"/>
<path d="M926.6,264 L926.6,279" fill="none" stroke="#000" stroke-width="9" stroke-linecap="butt" stroke-linejoin="miter"/>
<path d="M926.6,264 L926.6,279" fill="none" stroke="#8a8a8a" stroke-width="5" stroke-linecap="butt" stroke-linejoin="miter"/>
<path d="M926.6,279 L926.6,295" fill="none" stroke="#000" stroke-width="9" stroke-linecap="butt" stroke-linejoin="miter"/>
<path d="M926.6,279 L926.6,295" fill="none" stroke="#3c7c24" stroke-width="5" stroke-linecap="butt" stroke-linejoin="miter"/>
<path d="M926.6,295 A12.4,12.4 0 0 0 939,307.6" fill="none" stroke="#ee2020" stroke-width="10"/>
<path d="M939,307.7 L1006.5,307.7" fill="none" stroke="#000" stroke-width="9.5" stroke-linecap="butt" stroke-linejoin="miter"/>
<path d="M939,307.7 L1006.5,307.7" fill="none" stroke="#3c7c24" stroke-width="5.5" stroke-linecap="butt" stroke-linejoin="miter"/>
<g transform="translate(972.3,308.3) rotate(0) scale(0.95)">
<rect x="-14" y="-4.5" width="28" height="9.8" rx="2.5" fill="#1c1a22"/>
<rect x="-11" y="-8" width="8" height="16.3" rx="2" fill="#16151b"/>
<rect x="3.2" y="-8" width="8" height="16.3" rx="2" fill="#16151b"/>
<path d="M-10,-7 Q-10,-7.6 -8.5,-7.6 L8,-7 Q10,-7 10,-5 L10,-1.5 Q10,-0.5 8,-0.5 L-8,-1.8 Q-10,-2 -10,-3.5 Z" fill="#3a8ef0"/>
</g>
<line x1="922" y1="295" x2="931.5" y2="295" stroke="#3a4c5c" stroke-width="2"/>
<line x1="939" y1="302.8" x2="939" y2="312.6" stroke="#3a4c5c" stroke-width="2"/>
<line x1="922" y1="279" x2="931.5" y2="279" stroke="#3a4c5c" stroke-width="2"/>
<path d="M1004,307.7 C1011,307.7 1015,310 1015,315 C1015,318 1013.5,320.5 1011.2,322.8" fill="none" stroke="#ee2020" stroke-width="10"/>
<path d="M1011.7,322.5 L957.5,360.8" fill="none" stroke="#000" stroke-width="9.5" stroke-linecap="butt" stroke-linejoin="miter"/>
<path d="M1011.7,322.5 L957.5,360.8" fill="none" stroke="#3c7c24" stroke-width="5.5" stroke-linecap="butt" stroke-linejoin="miter"/>
<line x1="1005" y1="302.8" x2="1005" y2="312.6" stroke="#3a4c5c" stroke-width="2"/>
<line x1="1014.1" y1="326.9" x2="1008.3" y2="318.7" stroke="#3a4c5c" stroke-width="2"/>
<polygon points="976.2,344.9 988,335.9 992.5,342 980.5,350.8" fill="#b8e018"/>
<rect x="984.4" y="344" width="8.2" height="7" fill="#b8e018"/>
<line x1="988" y1="334.8" x2="993.3" y2="342" stroke="#3a4c5c" stroke-width="2"/>
<path d="M959,360.8 C952.5,364.5 948.5,368.5 948.3,376.5" fill="none" stroke="#ee2020" stroke-width="10.5"/>
<g transform="translate(947,389) rotate(-90) scale(0.95)">
<rect x="-14" y="-4.5" width="28" height="9.8" rx="2.5" fill="#1c1a22"/>
<rect x="-11" y="-8" width="8" height="16.3" rx="2" fill="#16151b"/>
<rect x="3.2" y="-8" width="8" height="16.3" rx="2" fill="#16151b"/>
<path d="M-10,-7 Q-10,-7.6 -8.5,-7.6 L8,-7 Q10,-7 10,-5 L10,-1.5 Q10,-0.5 8,-0.5 L-8,-1.8 Q-10,-2 -10,-3.5 Z" fill="#3a8ef0"/>
</g>
<line x1="961.4" y1="363.6" x2="955.6" y2="355.4" stroke="#3a4c5c" stroke-width="2"/>
<line x1="942.8" y1="376.3" x2="953.8" y2="376.3" stroke="#3a4c5c" stroke-width="2"/>
<path d="M947.30,414.40 L947.30,419.40 L942.30,419.40" fill="none" stroke="#000" stroke-width="11.4" stroke-linejoin="round"/>
<path d="M947.30,401.00 L947.30,419.40 L834.00,419.40" fill="none" stroke="#3c7c24" stroke-width="5.8" stroke-linejoin="round"/>
<path d="M951.50,401.00 L951.50,419.40" fill="none" stroke="#000" stroke-width="3.0" stroke-dasharray="8.7 3.5" stroke-dashoffset="2"/>
<path d="M943.10,401.00 L943.10,419.40" fill="none" stroke="#000" stroke-width="3.0" stroke-dasharray="8.7 3.5" stroke-dashoffset="8"/>
<path d="M947.30,423.60 L834.00,423.60" fill="none" stroke="#000" stroke-width="3.0" stroke-dasharray="8.7 3.5" stroke-dashoffset="2"/>
<path d="M947.30,415.20 L834.00,415.20" fill="none" stroke="#000" stroke-width="3.0" stroke-dasharray="8.7 3.5" stroke-dashoffset="8"/>
<rect x="816" y="414" width="18.5" height="10" fill="#111"/><rect x="818" y="416" width="14.5" height="6" fill="#e070d0"/>
<path d="M784.5,411 L784.5,422.4 A16.2,5.8 0 0 0 816.9,422.4 L816.9,411" fill="#fff" stroke="#223" stroke-width="1.2"/>
<ellipse cx="800.7" cy="411" rx="16.2" ry="5.8" fill="#fff" stroke="#223" stroke-width="1.2"/>
<path d="M988.6,350.8 L988.6,417" fill="none" stroke="#000" stroke-width="9" stroke-linecap="butt" stroke-linejoin="miter"/>
<path d="M988.6,350.8 L988.6,417" fill="none" stroke="#3c7c24" stroke-width="5" stroke-linecap="butt" stroke-linejoin="miter"/>
<path d="M988.6,416.5 A8.4,13 0 0 0 997,431" fill="none" stroke="#ee2020" stroke-width="9.5"/>
<line x1="983.5" y1="417" x2="993.7" y2="417" stroke="#3a4c5c" stroke-width="2"/>
<path d="M1001.5,390 L1001.5,427" fill="none" stroke="#000" stroke-width="10.5" stroke-linecap="butt" stroke-linejoin="miter"/>
<path d="M1001.5,390 L1001.5,427" fill="none" stroke="#14b2ee" stroke-width="6" stroke-linecap="butt" stroke-linejoin="miter"/>
<path d="M1001.5,390.5 A11.5,12 0 0 1 1013,378.4" fill="none" stroke="#ee2020" stroke-width="10.5"/>
<path d="M1056,409 C1055,384 1068,366.5 1093,366.5" fill="none" stroke="#1c1c22" stroke-width="8"/>
<path d="M1054.5,398 C1055,384 1066,370 1090,369.5" fill="none" stroke="#44444e" stroke-width="1.2" opacity="0.6"/>
<path d="M1013,378.4 L1088,378.4" fill="none" stroke="#000" stroke-width="9.5" stroke-linecap="butt" stroke-linejoin="miter"/>
<path d="M1013,378.4 L1088,378.4" fill="none" stroke="#14b2ee" stroke-width="6" stroke-linecap="butt" stroke-linejoin="miter"/>
<rect x="1070" y="375" width="18" height="7" fill="#ffee00"/>
<g transform="translate(1036,379) rotate(0) scale(0.92)">
<rect x="-14" y="-4.5" width="28" height="9.8" rx="2.5" fill="#1c1a22"/>
<rect x="-11" y="-8" width="8" height="16.3" rx="2" fill="#16151b"/>
<rect x="3.2" y="-8" width="8" height="16.3" rx="2" fill="#16151b"/>
<path d="M-10,-7 Q-10,-7.6 -8.5,-7.6 L8,-7 Q10,-7 10,-5 L10,-1.5 Q10,-0.5 8,-0.5 L-8,-1.8 Q-10,-2 -10,-3.5 Z" fill="#3a8ef0"/>
</g>
<line x1="996" y1="390.3" x2="1007" y2="390.3" stroke="#3a4c5c" stroke-width="2"/>
<line x1="1013" y1="373" x2="1013" y2="383.8" stroke="#3a4c5c" stroke-width="2"/>
<path d="M1041,456.5 L1141,456.5 Q1145.5,458 1145,465 L1144,472 Q1143,475.6 1138,475.6 L1036,475.6 Q1032,475.6 1033,471 Z" fill="#1c1c28"/>
<path d="M1044.4,422 Q1032.4,428 1033.4,440 Q1034.4,452 1044.4,458 Z" fill="#26262e"/>
<path d="M1044.4,426.0 L1035.4,427.2" stroke="#4c4c56" stroke-width="2.2"/>
<path d="M1044.4,432.5 L1035.4,433.7" stroke="#4c4c56" stroke-width="2.2"/>
<path d="M1044.4,439.0 L1035.4,440.2" stroke="#4c4c56" stroke-width="2.2"/>
<path d="M1044.4,445.5 L1035.4,446.7" stroke="#4c4c56" stroke-width="2.2"/>
<path d="M1044.4,452.0 L1035.4,453.2" stroke="#4c4c56" stroke-width="2.2"/>
<path d="M1066.7,422 Q1078.7,428 1077.7,440 Q1076.7,452 1066.7,458 Z" fill="#26262e"/>
<path d="M1066.7,426.0 L1075.7,427.2" stroke="#4c4c56" stroke-width="2.2"/>
<path d="M1066.7,432.5 L1075.7,433.7" stroke="#4c4c56" stroke-width="2.2"/>
<path d="M1066.7,439.0 L1075.7,440.2" stroke="#4c4c56" stroke-width="2.2"/>
<path d="M1066.7,445.5 L1075.7,446.7" stroke="#4c4c56" stroke-width="2.2"/>
<path d="M1066.7,452.0 L1075.7,453.2" stroke="#4c4c56" stroke-width="2.2"/>
<rect x="1043.3" y="419" width="24" height="49" rx="2" fill="url(#pumpg)"/>
<rect x="1041.7" y="412.2" width="27.7" height="7.2" rx="2.5" fill="#1a1a1e"/>
<rect x="1043" y="414.5" width="25" height="1.5" fill="#6a6a70"/>
<rect x="1047.8" y="407" width="15" height="5.5" rx="1.5" fill="#222228"/>
<circle cx="1056" cy="429.7" r="7" fill="#2a2a2e"/>
<circle cx="1055" cy="463.5" r="2" fill="#e8d020"/>
<path d="M997,430.7 L1058,430.7" fill="none" stroke="#000" stroke-width="8.2" stroke-linecap="butt" stroke-linejoin="miter"/>
<path d="M997,430.7 L1058,430.7" fill="none" stroke="#3c7c24" stroke-width="5" stroke-linecap="butt" stroke-linejoin="miter"/>
<circle cx="1058" cy="430.7" r="4.6" fill="#000"/><circle cx="1058.5" cy="430.7" r="2.5" fill="#2a2a30"/>
<path d="M1080.6,403 Q1080.6,389 1094,389 L1127,389 Q1140.7,389 1140.7,403 L1140.7,458 Q1140.7,462.8 1135,462.8 L1123,462.8 Q1121,470.4 1113,470.4 Q1105,470.4 1103.5,462.8 L1086,462.8 Q1080.6,462.8 1080.6,458 Z" fill="url(#tank)"/>
<rect x="1099.2" y="403.5" width="19" height="13" rx="2" fill="#f2f4f8"/>
<text x="1103" y="412.5" font-size="5" fill="#3a5aa8" font-weight="bold">vita</text>
<rect x="1094" y="361" width="32.4" height="26" rx="2" fill="#1c1c22"/>
<rect x="1092" y="356" width="36.4" height="7" rx="2.5" fill="#222228"/>
<rect x="1090" y="364" width="14" height="7" rx="3" fill="#2a2a30"/>
<rect x="1088" y="376" width="10" height="6.5" rx="3" fill="#2a2a30"/>
<rect x="1121" y="373.3" width="12.5" height="9" rx="4" fill="#2e2e36"/>
<rect x="1091" y="384" width="37.4" height="5.4" rx="1.5" fill="#121216"/>
<path d="M1100,356 L1104,352 L1128,347 Q1134,341.5 1146,342 Q1150,343.5 1147,347 Q1140,349 1131,349.5 L1110,357 Z" fill="#1e1e24"/>
<path d="M1134,378 L1152.5,378" fill="none" stroke="#000" stroke-width="9" stroke-linecap="butt" stroke-linejoin="miter"/>
<path d="M1134,378 L1152.5,378" fill="none" stroke="#ffee00" stroke-width="5" stroke-linecap="butt" stroke-linejoin="miter"/>
<path d="M1014,512.2 L1014,490.5 Q1014,487.4 1018,487.4 L1239,487.4 Q1243,487.4 1243,490.5 L1243,512.2 Z" fill="url(#granite)" stroke="#5a5550" stroke-width="1.2"/>
<rect x="1196" y="486" width="15" height="28" fill="#fff"/>
<path d="M1152.50,378.40 L1196.00,378.40" fill="none" stroke="#3c7c24" stroke-width="5.8" stroke-linejoin="round"/>
<path d="M1152.50,374.80 L1196.00,374.80" fill="none" stroke="#000" stroke-width="2.4" stroke-dasharray="8 6" stroke-dashoffset="-1"/>
<path d="M1152.50,382.00 L1196.00,382.00" fill="none" stroke="#000" stroke-width="2.4" stroke-dasharray="8 6" stroke-dashoffset="6"/>
<path d="M1195,378.4 Q1202.8,378.4 1202.8,386" fill="none" stroke="#3c7c24" stroke-width="5.8"/>
<path d="M1196,374.6 Q1206.6,374.6 1206.6,386" fill="none" stroke="#0a2a38" stroke-width="2.8"/>
<path d="M1202.80,385.00 L1202.80,511.00" fill="none" stroke="#3c7c24" stroke-width="5.6" stroke-linejoin="round"/>
<path d="M1206.40,385.00 L1206.40,511.00" fill="none" stroke="#0a2a38" stroke-width="2.8" stroke-dasharray="12.5 8" stroke-dashoffset="-9"/>
<path d="M1199.20,385.00 L1199.20,511.00" fill="none" stroke="#0a2a38" stroke-width="2.8" stroke-dasharray="12.5 8" stroke-dashoffset="-9"/>
<line x1="1202.8" y1="510" x2="1202.8" y2="528" stroke="#3c7c24" stroke-width="5.4"/>
<path d="M1193.3,522.5 L1198.5,520 L1203,526 L1207.5,520 L1212.7,522.5 L1203,530.2 Z" fill="#0a2a38"/><path d="M1200.2,519 L1205.4,519 L1203,529 Z" fill="#3c7c24"/>
<g transform="translate(1046.4,96) rotate(0) scale(1.05)">
<rect x="-14" y="-4.5" width="28" height="9.8" rx="2.5" fill="#1c1a22"/>
<rect x="-11" y="-8" width="8" height="16.3" rx="2" fill="#16151b"/>
<rect x="3.2" y="-8" width="8" height="16.3" rx="2" fill="#16151b"/>
<path d="M-10,-7 Q-10,-7.6 -8.5,-7.6 L8,-7 Q10,-7 10,-5 L10,-1.5 Q10,-0.5 8,-0.5 L-8,-1.8 Q-10,-2 -10,-3.5 Z" fill="#3a8ef0"/>
</g>
<path d="M1038,134.4 L1047.8,134.4 L1047.8,136.5 Q1048,139.5 1051,139.5 L1053.5,139.5 L1053.5,148.3 L1047,148.3 Q1038,148.3 1038,139 Z" fill="#ee2020"/>
<rect x="1038" y="132.3" width="8" height="2.2" fill="#34495e"/><rect x="1052.5" y="140.5" width="2.5" height="8" fill="#34495e"/>
<rect x="1037" y="172.8" width="19.5" height="11.8" rx="3" fill="#ffee00" stroke="#000" stroke-width="1.8"/>
<path d="M1052,173.5 Q1054.5,178.7 1052,184" fill="none" stroke="#000" stroke-width="0.8"/>
<path d="M1037.5,205.5 L1056,205.5 L1056,213 L1051.5,214 L1050.5,218 L1042.5,218 L1041.5,214 L1037.5,213 Z" fill="#a8dc28"/>
<rect x="1036.5" y="205" width="1.6" height="9" fill="#34495e"/><rect x="1054.6" y="205" width="1.6" height="9" fill="#34495e"/><rect x="1043" y="217.2" width="7" height="1.5" fill="#34495e"/>
<rect x="1036.5" y="238.5" width="19" height="12.5" rx="2.5" fill="url(#muf)" stroke="#1a2a38" stroke-width="1.2"/>
<text x="1086.4" y="100.9" font-size="14" fill="#111" textLength="122.7" lengthAdjust="spacingAndGlyphs" >2-Wege-Kugelhahn</text>
<text x="1086.4" y="144.7" font-size="14" fill="#111" textLength="68" lengthAdjust="spacingAndGlyphs" >90° Winkel</text>
<text x="1088.6" y="182.9" font-size="14" fill="#111" textLength="167.3" lengthAdjust="spacingAndGlyphs" >Übergangsverschraubung</text>
<text x="1088.6" y="216.7" font-size="14" fill="#111" textLength="75" lengthAdjust="spacingAndGlyphs" >T-Stück 90°</text>
<text x="1089.7" y="248.6" font-size="14" fill="#111" textLength="71.2" lengthAdjust="spacingAndGlyphs" >PVC-Muffe</text>
<rect x="13.2" y="562.8" width="150.5" height="7.6" rx="1.5" fill="#fff" stroke="#000" stroke-width="2.6"/>
<rect x="11.5" y="561.5" width="3.5" height="10.2" rx="1.5" fill="#000"/>
<g fill="none" stroke="#3a3a3a" stroke-width="3" stroke-dasharray="8,3.2"><line x1="20" y1="595.8" x2="165" y2="595.8"/><line x1="20" y1="602.6" x2="165" y2="602.6"/></g>
<path d="M18,594.3 L14,594.3 Q11.5,594.3 11.5,597 L11.5,601.5 Q11.5,604.1 14,604.1 L18,604.1" fill="none" stroke="#3a3a3a" stroke-width="3"/><rect x="162.5" y="598" width="2.5" height="6" fill="#3a3a3a"/>
<rect x="9.5" y="638" width="157.5" height="10.8" rx="2" fill="#08b4f0"/>
<rect x="9" y="670.2" width="157" height="8.6" rx="2" fill="#3c7c24"/>
<text x="179.7" y="570" font-size="14" fill="#111" textLength="65" lengthAdjust="spacingAndGlyphs" >PVC-Rohr</text>
<text x="176.6" y="603.4" font-size="14" fill="#111" textLength="107.5" lengthAdjust="spacingAndGlyphs" >Poolflexschlauch</text>
<text x="175.6" y="648.4" font-size="14" fill="#111" textLength="118" lengthAdjust="spacingAndGlyphs" >Gefiltertes Wasser</text>
<text x="176.6" y="679.7" font-size="14" fill="#111" textLength="134" lengthAdjust="spacingAndGlyphs" >Ungefiltertes Wasser</text>
<path d="M367,554.6 L378,554.6 C384,554.6 386.3,556.5 386.3,558.3 C386.3,560.1 384,562 378,562 L367,562 Z" fill="#e070d0" stroke="#1a2a38" stroke-width="1.4"/>
<path d="M367.7,599.7 L379,599.7 C385,599.7 387.3,601.7 387.3,603.7 C387.3,605.7 385,607.6 379,607.6 L367.7,607.6 Z" fill="#7a7e80" stroke="#1a2a38" stroke-width="1.4"/>
<rect x="366.3" y="633.7" width="27.5" height="10.3" rx="2" fill="#a0142c" stroke="#1a2a38" stroke-width="1.5"/>
<text x="408.9" y="563.6" font-size="14" fill="#111" textLength="281.9" lengthAdjust="spacingAndGlyphs" >Übergangsmuffennippel Ø 50/63 mm 2" AG</text>
<text x="410.2" y="608.8" font-size="14" fill="#111" textLength="299.8" lengthAdjust="spacingAndGlyphs" >Übergangsmuffennippel Ø 50/63 mm 1 1/2"AG</text>
<text x="409.3" y="643" font-size="14" fill="#111" textLength="461.5" lengthAdjust="spacingAndGlyphs" >Gewindemuffe Ø 63  mm x 2" IG und Reduzierstück kurz Ø 63 x 50 mm</text>
<text x="462.8" y="711.6" font-size="14" fill="#e0202a" textLength="801" lengthAdjust="spacingAndGlyphs" >BITTE BEACHTEN SIE, DASS DIE SKIZZE NUR EINE VARIANTE BZW. EIN BEISPIEL FÜR DIE VERROHRUNG DARSTELLT!</text>
</svg>
</body></html>
